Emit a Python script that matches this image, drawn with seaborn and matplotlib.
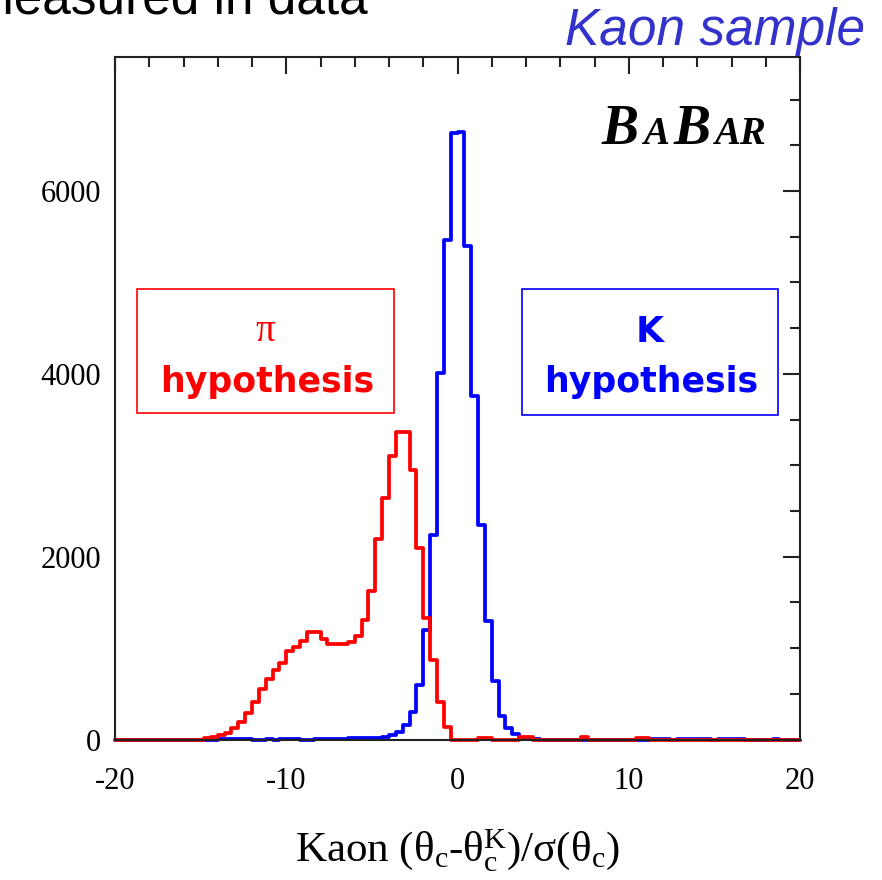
import numpy as np
import pandas as pd
import matplotlib
matplotlib.use("Agg")
import matplotlib.pyplot as plt
import seaborn as sns
from matplotlib.ticker import MultipleLocator
from matplotlib.patches import Rectangle
from matplotlib.offsetbox import TextArea, HPacker, AnchoredOffsetbox

# 100 bins of width 0.4 between -20 and 20
bin_width = 0.4
bin_edges = np.linspace(-20, 20, 101)
bin_centers = (bin_edges[:-1] + bin_edges[1:]) / 2

# counts per bin (pion hypothesis, red)
pion_counts = [
    0, 0, 0, 0, 0, 0, 0, 0, 0, 0,
    0, 0, 0, 20, 22, 47, 73, 128, 193, 295,
    412, 557, 667, 765, 838, 969, 1013, 1078, 1177, 1177,
    1104, 1042, 1042, 1042, 1067, 1129, 1311, 1625, 2193, 2638,
    3097, 3362, 3362, 2943, 2095, 1333, 867, 412, 140, 0,
    0, 0, 0, 15, 15, 0, 0, 0, 0, 25,
    25, 0, 0, 0, 0, 0, 0, 0, 25, 0,
    0, 0, 0, 0, 0, 0, 12, 12, 0, 0,
    0, 0, 0, 0, 0, 0, 0, 0, 0, 0,
    0, 0, 0, 0, 0, 0, 0, 0, 0, 0,
]

# kaon hypothesis, blue
kaon_counts = [
    0, 0, 0, 0, 0, 0, 0, 0, 0, 0,
    0, 0, 0, 0, 0, 5, 8, 8, 5, 8,
    0, 0, 8, 0, 8, 8, 8, 0, 0, 8,
    8, 8, 8, 8, 15, 15, 20, 20, 20, 30,
    47, 84, 157, 302, 601, 1202, 2240, 4008, 5465, 6631,
    6649, 5403, 3763, 2350, 1293, 638, 255, 131, 55, 20,
    10, 5, 0, 0, 0, 0, 0, 0, 0, 0,
    0, 0, 0, 0, 0, 0, 0, 0, 10, 10,
    10, 0, 10, 10, 10, 10, 10, 0, 10, 10,
    10, 10, 0, 0, 0, 0, 10, 0, 0, 0,
]

sns.set_theme(style="white")
plt.rcParams["font.family"] = ["Liberation Serif", "DejaVu Sans"]
plt.rcParams["axes.unicode_minus"] = False
plt.rcParams["mathtext.fontset"] = "custom"
plt.rcParams["mathtext.rm"] = "Liberation Serif"
plt.rcParams["mathtext.it"] = "Liberation Serif:italic"
plt.rcParams["mathtext.bf"] = "Liberation Serif:bold"
plt.rcParams["mathtext.default"] = "regular"

W, H = 882, 880


def fx(px):
    return px / W


def fy(py):
    return 1 - py / H


fig = plt.figure(figsize=(8.82, 8.80), dpi=100)
ax = fig.add_axes([fx(115), fy(739.5), fx(800) - fx(115), fy(56.7) - fy(739.5)])

df = pd.DataFrame({"x": bin_centers, "pion": pion_counts, "kaon": kaon_counts})
sns.histplot(data=df, x="x", weights="kaon", binwidth=bin_width, binrange=(-20, 20),
             element="step", fill=False, color="#0000ff", linewidth=2.7, ax=ax)
sns.histplot(data=df, x="x", weights="pion", binwidth=bin_width, binrange=(-20, 20),
             element="step", fill=False, color="#ff0000", linewidth=2.7, ax=ax)
for ln in ax.lines:
    ln.set_clip_on(False)

ax.set_xlim(-20, 20)
ax.set_ylim(0, 7470)
ax.xaxis.set_major_locator(MultipleLocator(10))
ax.xaxis.set_minor_locator(MultipleLocator(2))
ax.yaxis.set_major_locator(MultipleLocator(2000))
ax.yaxis.set_minor_locator(MultipleLocator(500))
ax.tick_params(which="both", direction="in", top=True, right=True,
               width=1.5, color="#222222", labelcolor="black")
ax.tick_params(which="major", length=12, labelsize=22)
ax.tick_params(axis="x", which="major", pad=20)
ax.tick_params(axis="y", which="major", pad=10)
ax.tick_params(which="minor", length=7)
for sp in ax.spines.values():
    sp.set_linewidth(1.5)
    sp.set_color("#222222")
ax.set_ylabel("")
ax.set_xlabel("Kaon (θ$_c$-θ$_c^K$)/σ(θ$_c$)", fontsize=31, labelpad=22, color="black")

# slide texts around the plot
fig.text(fx(-29), fy(13), "measured in data", fontsize=37, family="Liberation Sans",
         ha="left", va="baseline", color="black")
fig.text(fx(865), fy(45), "Kaon sample", fontsize=37, family="Liberation Sans",
         style="italic", ha="right", va="baseline", color="#3333cc")

# BaBar logo
pieces = [("B", 40), ("A", 28), ("B", 40), ("AR", 28)]
areas = [TextArea(t, textprops=dict(fontsize=s, fontweight="bold", fontstyle="italic",
                                    family="Liberation Serif", color="black"))
         for t, s in pieces]
logo = HPacker(children=areas, align="baseline", pad=0, sep=3)
anch = AnchoredOffsetbox(loc="lower right", child=logo, pad=0, borderpad=0, frameon=False,
                         bbox_to_anchor=(fx(766), fy(156)), bbox_transform=fig.transFigure)
fig.add_artist(anch)

# hypothesis boxes
fig.add_artist(Rectangle((fx(137), fy(413)), fx(394) - fx(137), fy(289) - fy(413),
                         transform=fig.transFigure, fill=False, edgecolor="#ff0000", lw=1.2))
fig.add_artist(Rectangle((fx(522), fy(415)), fx(778) - fx(522), fy(289) - fy(415),
                         transform=fig.transFigure, fill=False, edgecolor="#0000ff", lw=1.2))
fig.text(fx(265), fy(341), "π", color="#ff0000", fontsize=28, family="Liberation Serif",
         ha="center", va="baseline")
fig.text(fx(267), fy(392), "hypothesis", color="#ff0000", fontsize=25, fontweight="bold",
         family="DejaVu Sans", ha="center", va="baseline")
fig.text(fx(650), fy(342), "K", color="#0000ff", fontsize=26, fontweight="bold",
         family="DejaVu Sans", ha="center", va="baseline")
fig.text(fx(651), fy(392), "hypothesis", color="#0000ff", fontsize=25, fontweight="bold",
         family="DejaVu Sans", ha="center", va="baseline")

fig.savefig("out.png", dpi=100)
